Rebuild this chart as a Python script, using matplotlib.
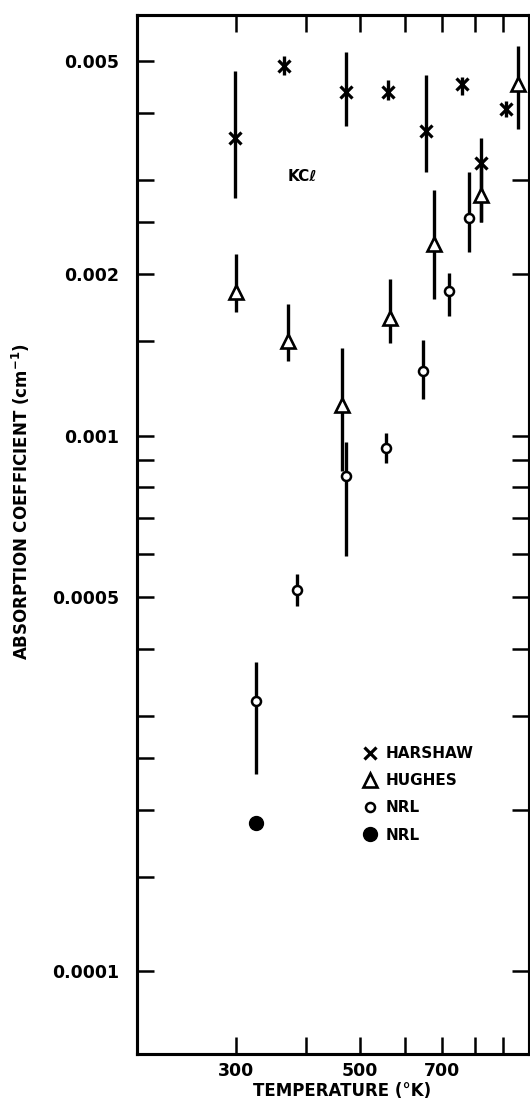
import matplotlib

matplotlib.use("Agg")
import matplotlib.pyplot as plt
from matplotlib.lines import Line2D
from matplotlib.ticker import NullLocator
import numpy as np

plt.rcParams["font.family"] = ["DejaVu Sans"]
plt.rcParams["font.weight"] = "bold"

# --- data (temperature in K, absorption in cm^-1) ---
harshaw_T = [299, 366, 472, 560, 655, 758, 820, 910]
harshaw_v = [0.00360, 0.00490, 0.00438, 0.00438, 0.00370, 0.00453, 0.00323, 0.00407]
harshaw_lo = [0.00278, 0.00472, 0.00378, 0.00424, 0.00311, 0.00433, 0.00250, 0.00393]
harshaw_hi = [0.00480, 0.00511, 0.00521, 0.00461, 0.00471, 0.00468, 0.00359, 0.00421]

hughes_T = [300, 372, 464, 564, 676, 820, 955]
hughes_v = [0.00185, 0.00150, 0.00114, 0.00166, 0.00228, 0.00281, 0.00453]
hughes_lo = [0.00170, 0.00138, 0.000858, 0.00149, 0.00180, 0.00250, 0.00373]
hughes_hi = [0.00218, 0.00176, 0.00146, 0.00196, 0.00288, 0.00320, 0.00534]

nrl_T = [326, 386, 472, 557, 648, 720, 782]
nrl_v = [0.000319, 0.000514, 0.000839, 0.000948, 0.00132, 0.00186, 0.00255]
nrl_lo = [0.000233, 0.000480, 0.000597, 0.000889, 0.00117, 0.00167, 0.00220]
nrl_hi = [0.000377, 0.000551, 0.000973, 0.00101, 0.00151, 0.00201, 0.00311]

nrl2_T = [326]
nrl2_v = [0.000189]

x_ticks = [300, 400, 500, 600, 700, 800, 900]
x_labels = ["300", "", "500", "", "700", "", ""]
y_left_ticks = [1e-4, 1.5e-4, 2e-4, 2.5e-4, 3e-4, 4e-4, 5e-4, 6e-4, 7e-4, 8e-4, 9e-4,
                1e-3, 1.5e-3, 2e-3, 2.5e-3, 3e-3, 4e-3, 5e-3]
y_left_labels = {1e-4: "0.0001", 5e-4: "0.0005", 1e-3: "0.001", 2e-3: "0.002", 5e-3: "0.005"}
y_right_ticks = [1e-4, 2e-4, 3e-4, 4e-4, 5e-4, 6e-4, 7e-4, 8e-4, 9e-4, 1e-3, 2e-3, 3e-3]


def yerr(v, lo, hi):
    v, lo, hi = np.asarray(v), np.asarray(lo), np.asarray(hi)
    return np.vstack([v - lo, hi - v])


fig = plt.figure(figsize=(5.30, 11.02), dpi=100, facecolor="white")
ax = fig.add_axes([137 / 530, 1 - 1054 / 1102, 392 / 530, 1039 / 1102])

bar = dict(ls="none", ecolor="black", elinewidth=2.4, capsize=0, color="black")
ax.errorbar(harshaw_T, harshaw_v, yerr=yerr(harshaw_v, harshaw_lo, harshaw_hi),
            marker="x", ms=9, mew=2.3, **bar)
ax.errorbar(hughes_T, hughes_v, yerr=yerr(hughes_v, hughes_lo, hughes_hi),
            marker="^", ms=10.5, mew=1.9, mfc="white", mec="black", **bar)
ax.errorbar(nrl_T, nrl_v, yerr=yerr(nrl_v, nrl_lo, nrl_hi),
            marker="o", ms=6.5, mew=1.8, mfc="white", mec="black", **bar)
ax.plot(nrl2_T, nrl2_v, ls="none", marker="o", ms=10, color="black")

ax.set_xscale("log")
ax.set_yscale("log")
ax.set_xlim(200, 1000)
ax.set_ylim(7.0e-5, 6.1e-3)

ax.set_xticks(x_ticks, x_labels)
ax.xaxis.set_minor_locator(NullLocator())
ax.set_yticks(y_left_ticks, [y_left_labels.get(t, "") for t in y_left_ticks])
ax.yaxis.set_minor_locator(NullLocator())
ax.tick_params(axis="x", which="both", direction="in", length=12, width=1.8,
               top=True, bottom=True, labelsize=12.5, pad=6)
ax.tick_params(axis="y", which="both", direction="in", length=12, width=1.8,
               left=True, right=False, labelsize=12.5, pad=13)

ax2 = ax.twinx()
ax2.set_yscale("log")
ax2.set_ylim(ax.get_ylim())
ax2.set_yticks(y_right_ticks, [""] * len(y_right_ticks))
ax2.yaxis.set_minor_locator(NullLocator())
ax2.tick_params(axis="y", which="both", direction="in", length=12, width=1.8)

for a in (ax, ax2):
    for spine in a.spines.values():
        spine.set_linewidth(2.2)

ax.text(394, 0.00305, "KCℓ", ha="center", va="center", fontsize=11, fontweight="bold")

handles = [
    Line2D([], [], ls="none", marker="x", ms=9, mew=2.3, color="black"),
    Line2D([], [], ls="none", marker="^", ms=10.5, mew=1.9, mfc="white", mec="black"),
    Line2D([], [], ls="none", marker="o", ms=6.5, mew=1.8, mfc="white", mec="black"),
    Line2D([], [], ls="none", marker="o", ms=10, color="black"),
]
ax.legend(handles, ["HARSHAW", "HUGHES", "NRL", "NRL"], loc="upper left",
          bbox_to_anchor=(0.575, 0.2965), frameon=False, borderpad=0, borderaxespad=0,
          handlelength=1.0, handletextpad=0.5, labelspacing=0.8,
          prop={"weight": "bold", "size": 11})

fig.text(342 / 530, 1 - 1091 / 1102, "TEMPERATURE (°K)", ha="center", va="center",
         fontsize=12, fontweight="bold")
fig.text(21 / 530, 1 - 502 / 1102, "ABSORPTION COEFFICIENT (cm$^{\\mathbf{-1}}$)",
         rotation=90, ha="center", va="center", fontsize=12, fontweight="bold")

fig.savefig("out.png", dpi=100, facecolor="white")
